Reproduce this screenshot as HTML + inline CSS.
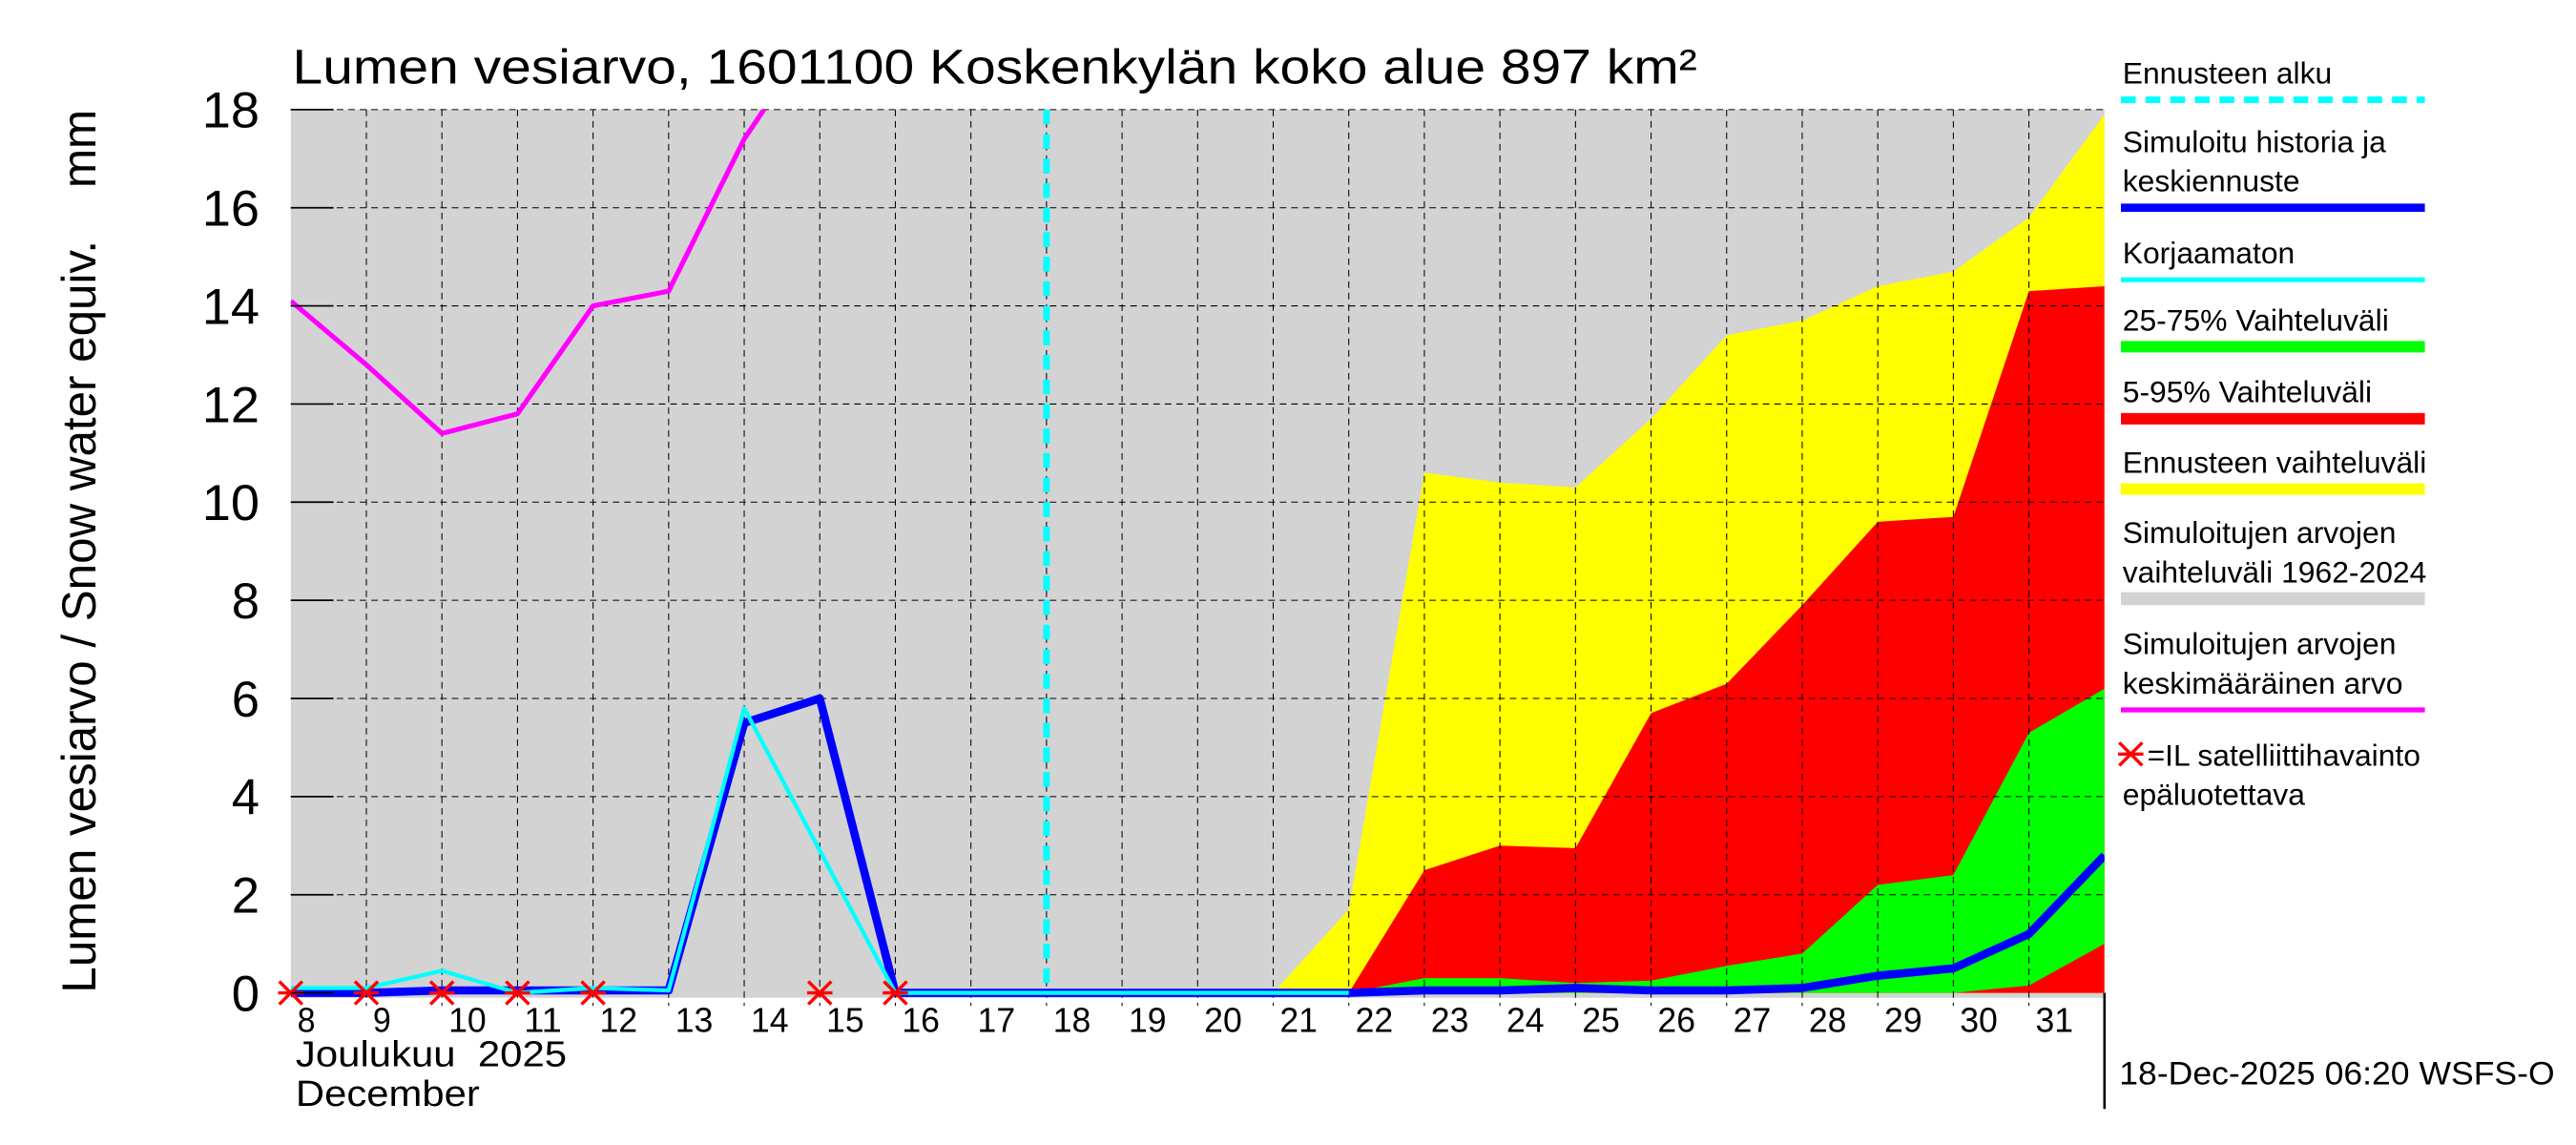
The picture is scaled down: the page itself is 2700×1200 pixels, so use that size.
<!DOCTYPE html>
<html><head><meta charset="utf-8"><style>
html,body{margin:0;padding:0;background:#fff}
svg{display:block}
text{font-family:"Liberation Sans",sans-serif;fill:#000;white-space:pre}
</style></head><body>
<svg width="2700" height="1200" viewBox="0 0 1568 700" preserveAspectRatio="none" xmlns="http://www.w3.org/2000/svg">
<defs><clipPath id="pc"><rect x="177" y="67" width="1104" height="543"/></clipPath></defs>
<rect x="177" y="67" width="1104" height="543" fill="#d3d3d3"/>
<g id="bands" clip-path="url(#pc)"></g>
<g id="grid"></g>
<g id="lines" clip-path="url(#pc)"></g>
<g id="marks"></g>
<g id="axes"></g>
<text x="178" y="51" font-size="30" textLength="855" lengthAdjust="spacingAndGlyphs">Lumen vesiarvo, 1601100 Koskenkylän koko alue 897 km²</text>
<text transform="translate(58,337) rotate(-90)" text-anchor="middle" font-size="29" textLength="540" lengthAdjust="spacingAndGlyphs">Lumen vesiarvo / Snow water equiv.    mm</text>
<text x="180" y="652" font-size="22" textLength="165" lengthAdjust="spacingAndGlyphs">Joulukuu  2025</text>
<text x="180" y="676" font-size="22" textLength="112" lengthAdjust="spacingAndGlyphs">December</text>
<line x1="1281" y1="607" x2="1281" y2="678" stroke="#000" stroke-width="1.5"/>
<text x="1290" y="663" font-size="20" textLength="265" lengthAdjust="spacingAndGlyphs">18-Dec-2025 06:20 WSFS-O</text>
<g id="legend"></g>
</svg>
<script>
const days = [8,9,10,11,12,13,14,15,16,17,18,19,20,21,22,23,24,25,26,27,28,29,30,31,32];
const yTicks = [0,2,4,6,8,10,12,14,16,18];
const meanDays = [8,9,10,11,12,13,14,15];
const meanVals = [14.1,12.8,11.4,11.8,14.0,14.3,17.4,19.7];
const uncorrDays = [8,9,10,11,12,13,14,15,16,17,18,19,20,21,22];
const uncorrVals = [0.1,0.1,0.45,0.0,0.1,0.05,5.8,2.9,0,0,0,0,0,0,0];
const simDays = [8,9,10,11,12,13,14,15,16,17,18,19,20,21,22,23,24,25,26,27,28,29,30,31,32];
const simVals = [0,0,0.05,0.05,0.05,0.05,5.5,6.0,0,0,0,0,0,0,0,0.05,0.05,0.1,0.05,0.05,0.1,0.35,0.5,1.2,2.8];
const bandDays = [21,22,23,24,25,26,27,28,29,30,31,32];
const yellowHi = [0,1.7,10.6,10.4,10.3,11.7,13.4,13.7,14.4,14.7,15.8,17.9];
const yellowLo = [0,0,0,0,0,0,0,0,0,0,0,0];
const redHi = [0,0,2.5,3.0,2.95,5.7,6.3,7.9,9.6,9.7,14.3,14.4];
const redLo = [0,0,0,0,0,0,0,0,0,0,0,0];
const greenHi = [0,0,0.3,0.3,0.2,0.25,0.55,0.8,2.2,2.4,5.3,6.2];
const greenLo = [0,0,0,0,0,0,0,0,0,0,0.15,1.0];
const obsDays = [8,9,10,11,12,15,16];
const obsVals = [0,0,0,0,0,0,0];
const forecastStart = 18;
const NS='http://www.w3.org/2000/svg';
const X=d=>177+(d-8)*46, Y=v=>607-30*v;
function mk(t,a,p){const e=document.createElementNS(NS,t);for(const k in a)e.setAttribute(k,a[k]);document.getElementById(p).appendChild(e);return e;}
function band(lo,hi,col,name){let pts=bandDays.map((d,i)=>X(d)+','+Y(hi[i]));for(let i=bandDays.length-1;i>=0;i--)pts.push(X(bandDays[i])+','+Y(lo[i]));const e=mk('polygon',{points:pts.join(' '),fill:col},'bands');

}
band(yellowLo,yellowHi,'#ffff00','forecast-range-band');
band(redLo,redHi,'#ff0000','band-5-95');
band(greenLo,greenHi,'#00ff00','band-25-75');
days.forEach(d=>{if(d>8&&d<32){const e=mk('line',{x1:X(d),x2:X(d),y1:67,y2:615,stroke:'#000','stroke-width':0.6,'stroke-dasharray':'4,3'},'grid');

}
if(d<32){const t=mk('text',{x:X(d)+4,y:631,'font-size':21,textLength:(d<10?11:23),lengthAdjust:'spacingAndGlyphs'},'axes');t.textContent=d;

}});
yTicks.forEach(v=>{if(v>0){const e=mk('line',{x1:177,x2:1281,y1:Y(v),y2:Y(v),stroke:'#000','stroke-width':0.6,'stroke-dasharray':'4,3'},'grid');

}
const k=mk('line',{x1:177,x2:203,y1:Y(v),y2:Y(v),stroke:'#000','stroke-width':1},'axes');


const t=mk('text',{x:158,y:Y(v)+11,'font-size':31,'text-anchor':'end',textLength:(v<10?17:35),lengthAdjust:'spacingAndGlyphs'},'axes');t.textContent=v;

});
const fl=mk('line',{x1:X(forecastStart),x2:X(forecastStart),y1:67,y2:607,stroke:'#00ffff','stroke-width':4,'stroke-dasharray':'9,6'},'lines');


function line(ds,vs,col,w,name){const e=mk('polyline',{points:ds.map((d,i)=>X(d)+','+Y(vs[i])).join(' '),fill:'none',stroke:col,'stroke-width':w,'stroke-linejoin':'round'},'lines');

}
line(meanDays,meanVals,'#ff00ff',3,'mean-line');
line(simDays,simVals,'#0000ff',5,'simulated-line');
line(uncorrDays,uncorrVals,'#00ffff',2.5,'uncorrected-line');
function star(cx,cy,p){const s=7;const d=`M${cx-s},${cy-s}L${cx+s},${cy+s}M${cx-s},${cy+s}L${cx+s},${cy-s}M${cx-s*1.1},${cy}L${cx+s*1.1},${cy}`;return mk('path',{d:d,stroke:'#ff0000','stroke-width':2,fill:'none'},p);}
obsDays.forEach((d,i)=>{const t=star(X(d),Y(obsVals[i]),'marks');

});
const leg=[[['Ennusteen alku'],44,'#00ffff',4,true],[['Simuloitu historia ja','keskiennuste'],86,'#0000ff',5],[['Korjaamaton'],154,'#00ffff',3],[['25-75% Vaihteluväli'],195,'#00ff00',7],[['5-95% Vaihteluväli'],239,'#ff0000',7],[['Ennusteen vaihteluväli'],282,'#ffff00',7],[['Simuloitujen arvojen','vaihteluväli 1962-2024'],325,'#d3d3d3',8],[['Simuloitujen arvojen','keskimääräinen arvo'],393,'#ff00ff',3]];
leg.forEach(l=>{l[0].forEach((s,j)=>{const t=mk('text',{x:1292,y:l[1]+7+j*24,'font-size':18.5},'legend');t.textContent=s;

});
const ly=l[1]+15+(l[0].length-1)*24+2;const a={x1:1291,x2:1476,y1:ly,y2:ly,stroke:l[2],'stroke-width':l[3]};if(l[4])a['stroke-dasharray']='9,6';const e=mk('line',a,'legend');

});
const as=star(1297,461,'legend');


const t1=mk('text',{x:1307,y:468,'font-size':18.5},'legend');t1.textContent='=IL satelliittihavainto';


const t2=mk('text',{x:1292,y:492,'font-size':18.5},'legend');t2.textContent='epäluotettava';


</script>
</body></html>
